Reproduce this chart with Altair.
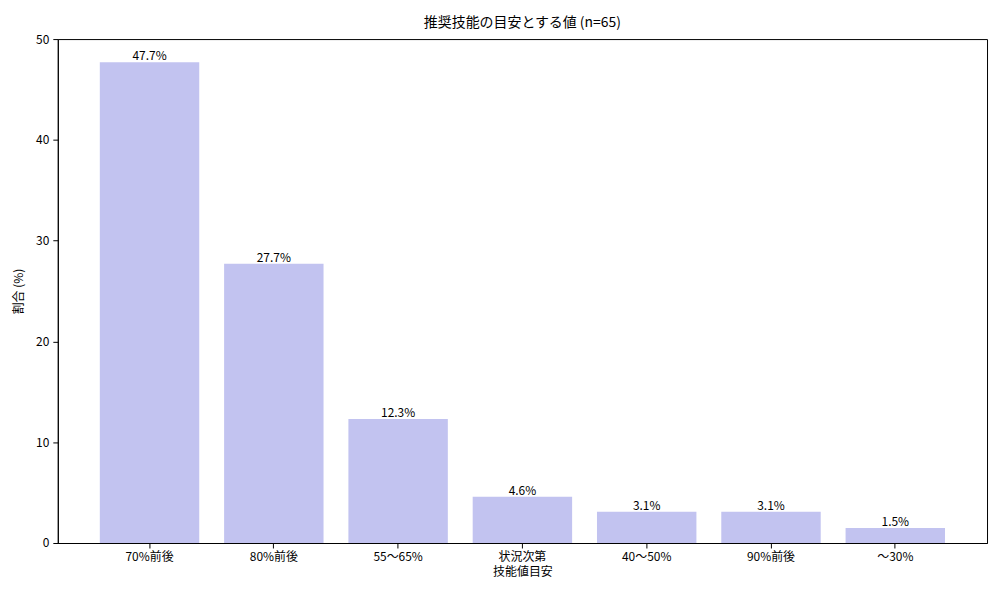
import altair as alt
import pandas as pd

categories = ["70%前後", "80%前後", "55～65%", "状況次第", "40～50%", "90%前後", "～30%"]
values = [47.7, 27.7, 12.3, 4.6, 3.1, 3.1, 1.5]
labels = ["47.7%", "27.7%", "12.3%", "4.6%", "3.1%", "3.1%", "1.5%"]

df = pd.DataFrame({"cat": categories, "val": values, "lab": labels})

FONT = "Noto Sans CJK JP"

x = alt.X("cat:N", sort=categories, title="技能値目安",
          scale=alt.Scale(paddingInner=0.2, paddingOuter=0.338),
          axis=alt.Axis(labelAngle=0, labelFontSize=12, titleFontSize=12,
                        labelColor="black", titleColor="black", tickColor="black",
                        domainColor="black", tickSize=5, labelPadding=4,
                        titlePadding=4, titleFontWeight="normal", labelFont=FONT, titleFont=FONT))
y = alt.Y("val:Q", title="割合 (%)",
          scale=alt.Scale(domain=[0, 50], nice=False),
          axis=alt.Axis(values=[0, 10, 20, 30, 40, 50], grid=False, labelFontSize=12,
                        titleFontSize=12, labelColor="black", titleColor="black",
                        tickColor="black", domainColor="black", tickSize=5,
                        labelPadding=4, titlePadding=10, titleFontWeight="normal",
                        labelFont=FONT, titleFont=FONT))

bars = alt.Chart(df).mark_bar(color="#c2c3f0").encode(x=x, y=y)
text = alt.Chart(df).mark_text(baseline="bottom", dy=1, fontSize=12, font=FONT, color="black").encode(
    x=alt.X("cat:N", sort=categories), y="val:Q", text="lab:N")

chart = (bars + text).properties(
    width=933, height=506,
    title=alt.TitleParams("推奨技能の目安とする値 (n=65)", fontSize=14, font=FONT,
                          fontWeight="normal", color="black", offset=3),
    autosize=alt.AutoSizeParams(type="none"),
    padding={"left": 50, "top": 30, "right": 5, "bottom": 50},
).configure(background="white").configure_view(stroke="black", strokeWidth=1)

chart.save("out.html", embed_options={"renderer": "svg", "actions": False})
